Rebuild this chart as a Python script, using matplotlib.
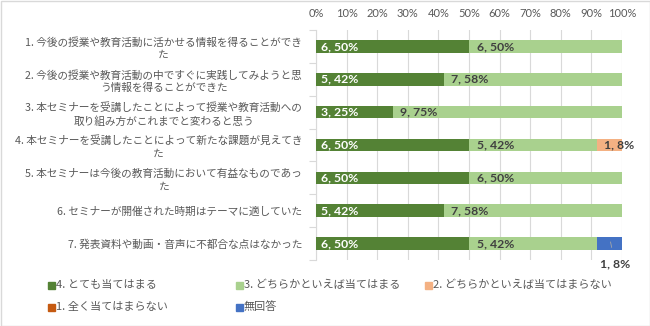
import matplotlib
matplotlib.use("Agg")
import matplotlib.pyplot as plt
from matplotlib.patches import Rectangle
import numpy as np

plt.rcParams['font.family'] = ['Noto Sans CJK JP', 'DejaVu Sans']

categories = [
    "1. 今後の授業や教育活動に活かせる情報を得ることができ\nた",
    "2. 今後の授業や教育活動の中ですぐに実践してみようと思\nう情報を得ることができた",
    "3. 本セミナーを受講したことによって授業や教育活動への\n取り組み方がこれまでと変わると思う",
    "4. 本セミナーを受講したことによって新たな課題が見えてき\nた",
    "5. 本セミナーは今後の教育活動において有益なものであっ\nた",
    "6. セミナーが開催された時期はテーマに適していた",
    "7. 発表資料や動画・音声に不都合な点はなかった",
]
series_names = ["4. とても当てはまる", "3. どちらかといえば当てはまる",
                "2. どちらかといえば当てはまらない", "1. 全く当てはまらない", "無回答"]
counts_4 = [6, 5, 3, 6, 6, 5, 6]
counts_3 = [6, 7, 9, 5, 6, 7, 5]
counts_2 = [0, 0, 0, 1, 0, 0, 0]
counts_1 = [0, 0, 0, 0, 0, 0, 0]
counts_na = [0, 0, 0, 0, 0, 0, 1]
xticks = [0, 10, 20, 30, 40, 50, 60, 70, 80, 90, 100]

colors = ["#548235", "#A9D18E", "#F4B183", "#C55A11", "#4472C4"]
label_colors = ["white", "#404040", "#404040", "#404040", "#404040"]

W, H = 650, 326
fig = plt.figure(figsize=(W / 100, H / 100), dpi=100)
ax = fig.add_axes([316 / W, 1 - 260 / H, (622 - 316) / W, (260 - 30) / H])

allc = np.array([counts_4, counts_3, counts_2, counts_1, counts_na], dtype=float)
totals = allc.sum(axis=0)
fracs = allc / totals * 100
y = np.arange(len(categories))
left = np.zeros(len(categories))
lab_font = dict(family=['Lato', 'DejaVu Sans'], fontsize=8.8, fontweight='bold')
for si in range(5):
    ax.barh(y, fracs[si], left=left, height=0.38, color=colors[si], zorder=3)
    for i in range(len(categories)):
        c = allc[si, i]
        if c <= 0:
            continue
        txt = f"{int(c)}, {fracs[si, i]:.0f}%"
        if si == 4:
            ax.annotate(txt, xy=(left[i] + fracs[si, i] * 0.55, y[i] - 0.05),
                        xytext=(left[i] + fracs[si, i] * 0.55 + 1.5, y[i] + 0.62),
                        ha='center', va='center', color=label_colors[si],
                        arrowprops=dict(arrowstyle='-', color='#A6A6A6', lw=0.6,
                                        shrinkA=6, shrinkB=0),
                        zorder=5, **lab_font)
        else:
            pad = 1.5 if si == 0 else 2.5
            ax.text(left[i] + pad, y[i], txt, ha='left', va='center',
                    color=label_colors[si], zorder=5, **lab_font)
    left += fracs[si]

ax.set_xlim(0, 100)
ax.set_ylim(len(categories) - 0.5, -0.5)
ax.set_xticks(xticks)
ax.set_xticklabels([f"{t}%" for t in xticks], color="#595959", fontsize=8,
                   family=['Lato', 'DejaVu Sans'])
ax.xaxis.tick_top()
ax.tick_params(axis='x', length=0, pad=8)
ax.grid(axis='x', color='#D9D9D9', lw=0.8, zorder=0)
ax.set_axisbelow(True)

ax.set_yticks(y)
ax.set_yticklabels(categories, color="#595959", fontsize=7.7,
                   multialignment='center', linespacing=1.3)
ax.tick_params(axis='y', length=0, pad=10)
ax.set_yticks(np.arange(-0.5, len(categories) + 0.5, 1), minor=True)
ax.tick_params(axis='y', which='minor', length=5, color='#D9D9D9', width=0.8)

for s in ['top', 'right', 'bottom']:
    ax.spines[s].set_visible(False)
ax.spines['left'].set_color('#D9D9D9')
ax.spines['left'].set_linewidth(0.8)

# legend (manual)
leg_pos = [(48, 285), (236, 285), (425, 285), (48, 307), (236, 307)]
for si, (lx, ly) in enumerate(leg_pos):
    fig.patches.append(Rectangle((lx / W, 1 - (ly + 3.5) / H), 7 / W, 7 / H,
                                 transform=fig.transFigure, color=colors[si]))
    fig.text((lx + 8) / W, 1 - ly / H, series_names[si], ha='left', va='center',
             fontsize=8, color="#595959")

fig.patches.append(Rectangle((0.5 / W, 0.5 / H), 1 - 1 / W, 1 - 1 / H, transform=fig.transFigure,
                             fill=False, edgecolor='#D9D9D9', lw=1))
fig.savefig("out.png", dpi=100)
